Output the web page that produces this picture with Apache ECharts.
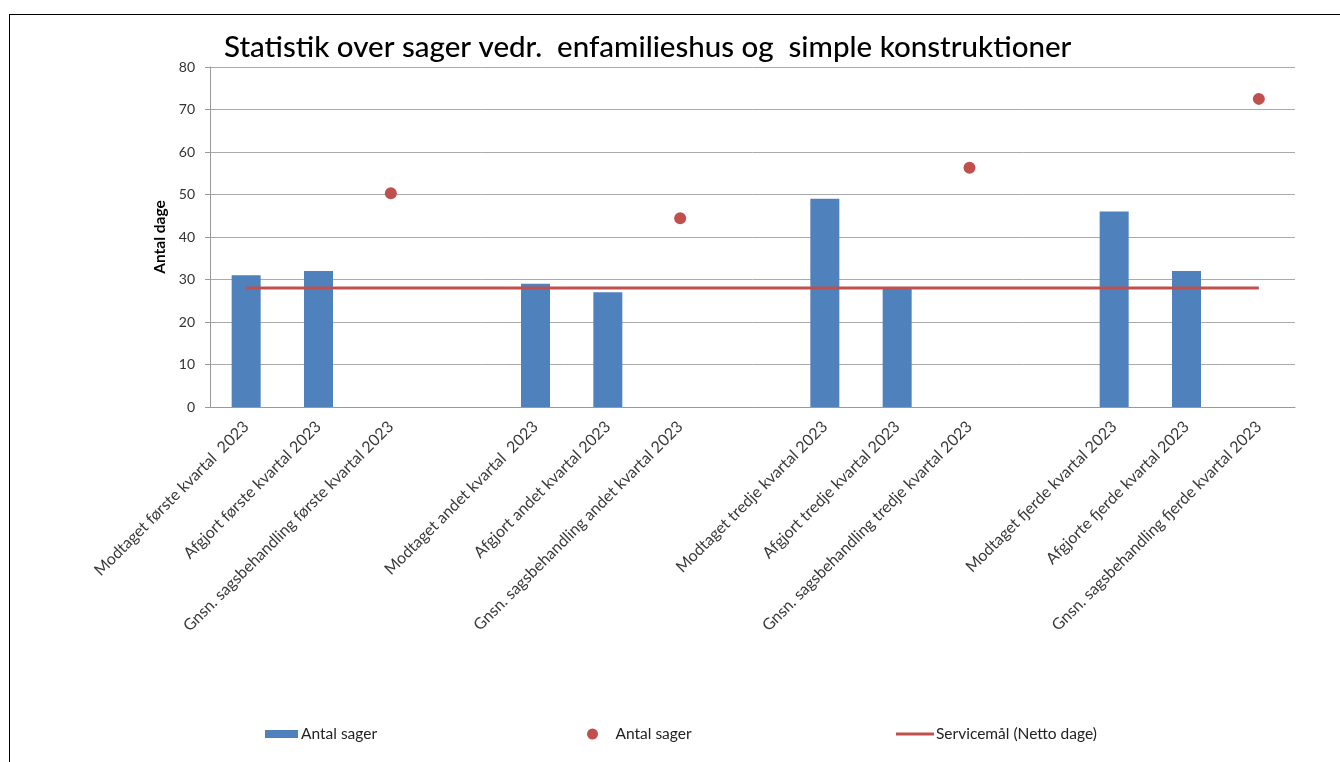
<!DOCTYPE html>
<html>
<head>
<meta charset="utf-8">
<script src="https://cdn.jsdelivr.net/npm/echarts@6/dist/echarts.min.js"></script>
<style>
  html, body { margin: 0; padding: 0; background: #fff; }
  #main { width: 1340px; height: 762px; }
  .frame {
    position: absolute; left: 9px; top: 14px; right: -5px; bottom: -5px;
    border-top: 1px solid #000; border-left: 1px solid #000;
    pointer-events: none;
  }
</style>
</head>
<body>
<div id="main"></div>
<div class="frame"></div>
<script>
// categories (blank ones are the gaps between quarters)
const categories = [
  'Modtaget første kvartal  2023',
  'Afgjort første kvartal 2023',
  'Gnsn. sagsbehandling første kvartal 2023',
  '',
  'Modtaget andet kvartal  2023',
  'Afgjort andet kvartal 2023',
  'Gnsn. sagsbehandling andet kvartal 2023',
  '',
  'Modtaget tredje kvartal 2023',
  'Afgjort tredje kvartal 2023',
  'Gnsn. sagsbehandling tredje kvartal 2023',
  '',
  'Modtaget fjerde kvartal 2023',
  'Afgjorte fjerde kvartal 2023',
  'Gnsn. sagsbehandling fjerde kvartal 2023'
]
const antalSager = [31, 32, null, null, 29, 27, null, null, 49, 28, null, null, 46, 32, null]
const gnsnDage = [null, null, 50.3, null, null, null, 44.4, null, null, null, 56.3, null, null, null, 72.5]
const servicemaal = [28, 28, 28, 28, 28, 28, 28, 28, 28, 28, 28, 28, 28, 28, 28]
const yTicks = { min: 0, max: 80, interval: 10 }

const FONT = 'Lato'
const chart = echarts.init(document.getElementById('main'))

const legendBase = {
  bottom: 15,
  itemGap: 0,
  selectedMode: false
}
const legendText = (padLeft) => ({
  fontFamily: FONT, fontSize: 15.5, color: '#222', padding: [0, 0, 0, padLeft]
})

const option = {
  animation: false,
  title: {
    text: 'Statistik over sager vedr.  enfamilieshus og  simple konstruktioner',
    left: 219,
    top: 27,
    textStyle: { fontFamily: FONT, fontSize: 29.5, fontWeight: 500, color: '#000' }
  },
  grid: { left: 210, right: 45, top: 67, bottom: 355 },
  legend: [
    Object.assign({}, legendBase, {
      left: 260, data: [{ name: 'Antal sager', icon: 'rect' }],
      itemWidth: 33, itemHeight: 8, textStyle: legendText(-2)
    }),
    Object.assign({}, legendBase, {
      left: 582, data: [{ name: 'Antal sager ', icon: 'circle' }],
      itemWidth: 22, itemHeight: 11, textStyle: legendText(7)
    }),
    Object.assign({}, legendBase, {
      left: 891, data: [{ name: 'Servicemål (Netto dage)', icon: 'rect' }],
      itemWidth: 38, itemHeight: 3, textStyle: legendText(-3)
    })
  ],
  xAxis: {
    type: 'category',
    data: categories,
    axisLine: { lineStyle: { color: '#999', width: 1 } },
    axisTick: { show: false },
    axisLabel: {
      interval: 0,
      rotate: 45,
      margin: 17,
      fontFamily: FONT,
      fontSize: 16,
      color: '#3a3a3a'
    }
  },
  yAxis: {
    type: 'value',
    min: yTicks.min,
    max: yTicks.max,
    interval: yTicks.interval,
    name: 'Antal dage',
    nameLocation: 'middle',
    nameGap: 42,
    nameTextStyle: { fontFamily: FONT, fontSize: 15.5, fontWeight: 'bold', color: '#000' },
    axisLine: { show: true, lineStyle: { color: '#999' } },
    axisTick: { show: true, length: 5, lineStyle: { color: '#999' } },
    axisLabel: { fontFamily: FONT, fontSize: 14, color: '#333', margin: 15 },
    splitLine: { lineStyle: { color: '#aaa', width: 1 } }
  },
  series: [
    {
      name: 'Antal sager',
      type: 'bar',
      data: antalSager,
      barWidth: 29,
      itemStyle: { color: '#4f81bd' }
    },
    {
      name: 'Antal sager ',
      type: 'scatter',
      data: gnsnDage,
      symbol: 'circle',
      symbolSize: 12,
      itemStyle: { color: '#c0504d', opacity: 1 }
    },
    {
      name: 'Servicemål (Netto dage)',
      type: 'line',
      data: servicemaal,
      showSymbol: false,
      symbol: 'none',
      lineStyle: { color: '#c0504d', width: 3 },
      itemStyle: { color: '#c0504d' }
    }
  ]
}

chart.setOption(option)
</script>
</body>
</html>
